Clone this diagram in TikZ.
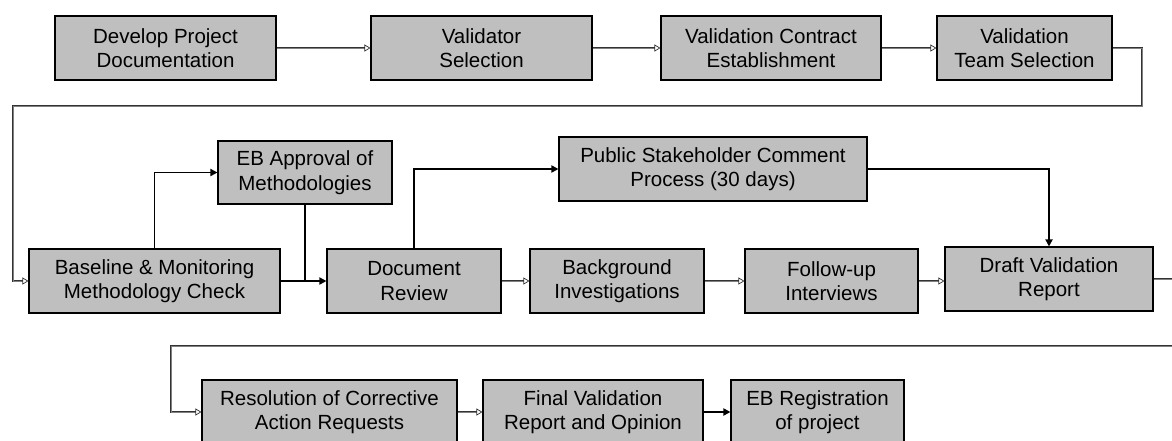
\documentclass[tikz,border=0pt]{standalone}
\usepackage{fontspec}
\setmainfont{Liberation Sans}
\usetikzlibrary{arrows.meta}

\begin{document}
\begin{tikzpicture}[x=1pt,y=-1pt,
		task/.style={
			draw,fill=black!25,line width=1.1pt,align=center,inner sep=0pt,
			minimum height=64pt,font=\fontsize{20.5}{24.5}\selectfont
		},
		flow/.style={
			draw=black!80,line width=0.7pt,double=black!50,double distance=1pt,
			-{Triangle[open,length=6pt,width=7pt]}
		},
		link/.style={
			draw=black,line width=1.7pt,-{Triangle[length=7pt,width=7pt]}
		}
		]
		\useasboundingbox (0,0) rectangle (1172,440);
		% row 1
		\node[task,minimum width=221pt] (dev) at (165.5,48) {Develop Project\\Documentation};
		\node[task,minimum width=221pt] (vsel) at (481.5,48) {Validator\\Selection};
		\node[task,minimum width=220pt] (vcon) at (771,48) {Validation Contract\\Establishment};
		\node[task,minimum width=175pt] (vteam) at (1024.5,48) {Validation\\Team Selection};
		% row 2
		\node[task,minimum width=174pt,minimum height=63pt] (ebapp) at (305,172.5) {EB Approval of\\Methodologies};
		\node[task,minimum width=251pt] (base) at (154.5,281) {Baseline \& Monitoring\\Methodology Check};
		\node[task,minimum width=174pt] (docrev) at (414,281) {Document\\Review};
		\node[task,minimum width=308pt] (pub) at (713,169) {Public Stakeholder Comment\\Process (30 days)};
		\node[task,minimum width=174pt] (bgi) at (617,281) {Background\\Investigations};
		\node[task,minimum width=173pt] (fup) at (831.5,281) {Follow-up\\Interviews};
		\node[task,minimum width=208pt] (draft) at (1049,279) {Draft Validation\\Report};
		% row 3
		\node[task,minimum width=255pt] (res) at (329.5,412) {Resolution of Corrective\\Action Requests};
		\node[task,minimum width=220pt] (final) at (593,412) {Final Validation\\Report and Opinion};
		\node[task,minimum width=173pt] (ebreg) at (817.5,412) {EB Registration\\of project};

		\coordinate (join) at (ebapp.south |- base.east);
		\coordinate (turn1) at (1142,106);
		\coordinate (turn2) at (13,106);
		\coordinate (turn3) at (1190,346);
		\coordinate (turn4) at (171,346);

		\draw[flow] (dev) -- (vsel);
		\draw[flow] (vsel) -- (vcon);
		\draw[flow] (vcon) -- (vteam);
		\draw[flow] (vteam.east) -| (turn1) -- (turn2) |- (base.west);

		\draw[link] (base.north) |- (ebapp.west);
		\draw[link,-] (ebapp.south) -- (join);
		\draw[link] (base) -- (docrev);
		\draw[link] (docrev.north) |- (pub.west);
		\draw[link] (pub.east) -| (draft.north);

		\draw[flow] (docrev) -- (bgi);
		\draw[flow] (bgi) -- (fup);
		\draw[flow] (fup.east) -- (fup.east -| draft.west);
		\draw[flow] (draft.east) -| (turn3) -- (turn4) |- (res.west);

		\draw[flow] (res) -- (final);
		\draw[link] (final) -- (ebreg);
\end{tikzpicture}
\end{document}
